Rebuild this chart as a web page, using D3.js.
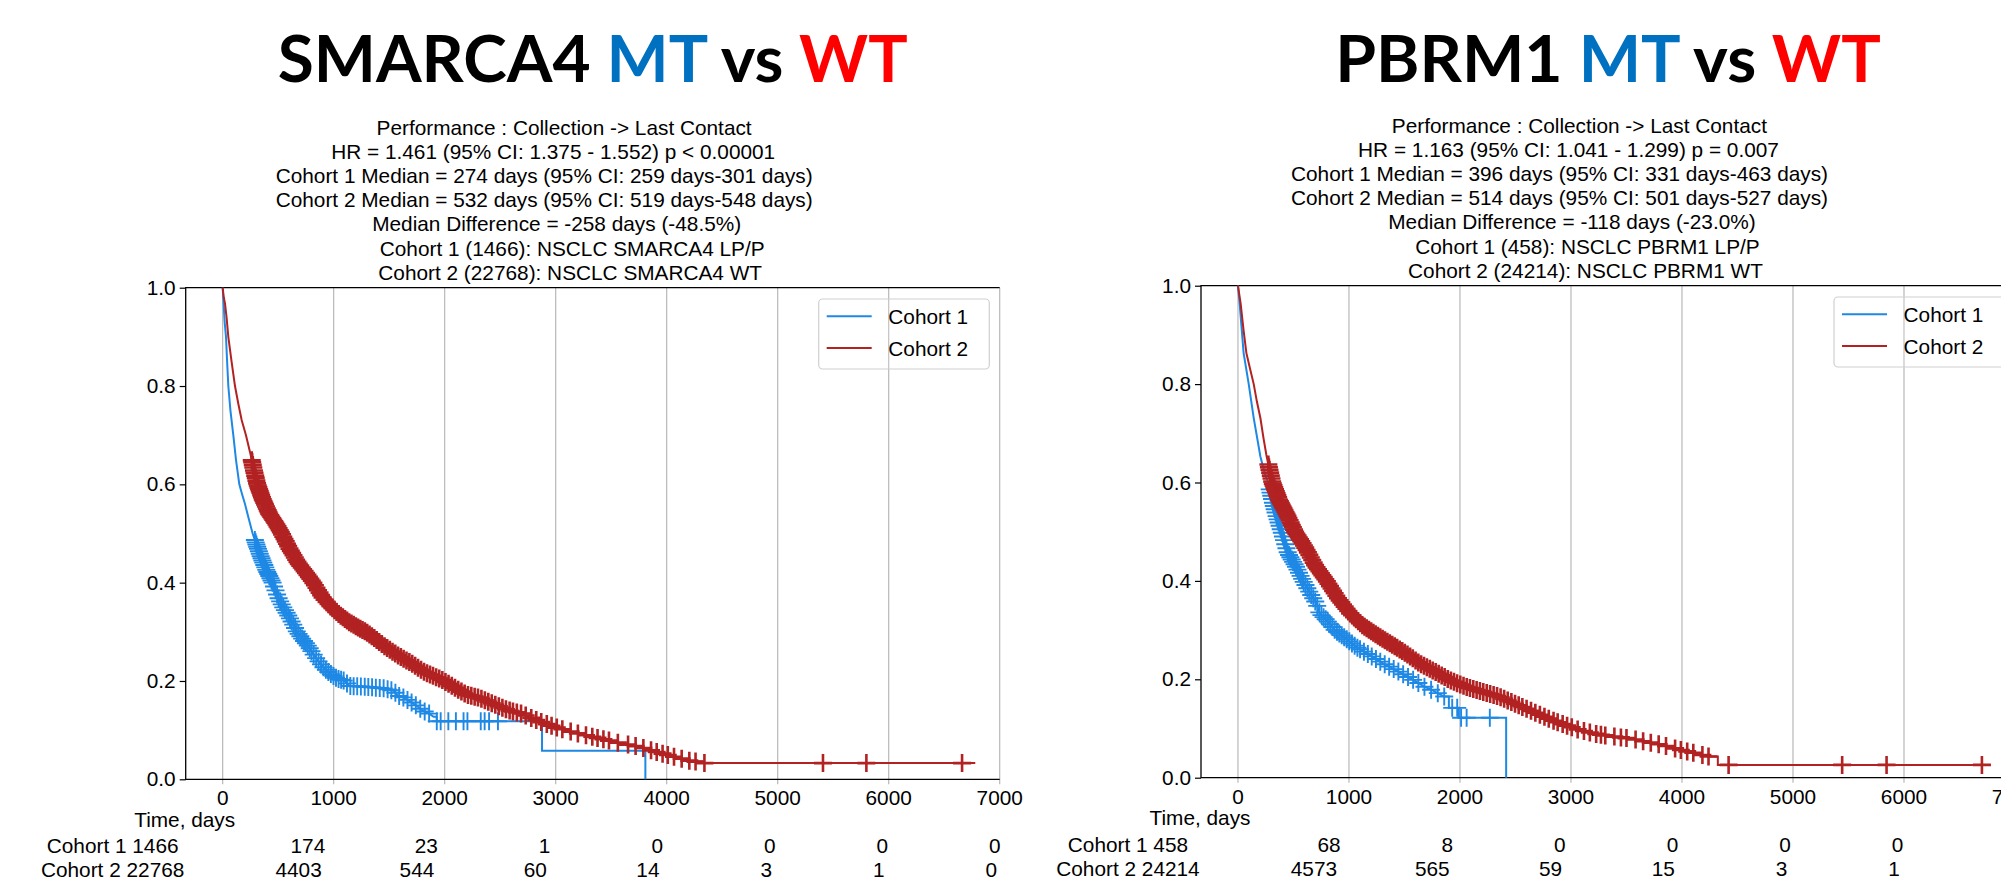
<!DOCTYPE html>
<html>
<head>
<meta charset="utf-8">
<script src="https://cdn.jsdelivr.net/npm/d3@7"></script>
<style>
  body { margin: 0; background: #fff; }
  text { font-family: "Liberation Sans", Arial, sans-serif; fill: #000; }
</style>
</head>
<body>
<svg id="chart" width="2001" height="894"></svg>
<script>

// ---- ticks / table columns
const xTicks = [0, 1000, 2000, 3000, 4000, 5000, 6000, 7000];
const yTicks = [0, 0.2, 0.4, 0.6, 0.8, 1.0];
const riskTimes = [0, 1000, 2000, 3000, 4000, 5000, 6000, 7000];

// ---- SMARCA4 panel
const smarcaTitle = ["SMARCA4 ", "MT", " vs ", "WT"];
const smarcaInfo = [
  "Performance : Collection -> Last Contact",
  "HR = 1.461 (95% CI: 1.375 - 1.552) p < 0.00001",
  "Cohort 1 Median = 274 days (95% CI: 259 days-301 days)",
  "Cohort 2 Median = 532 days (95% CI: 519 days-548 days)",
  "Median Difference = -258 days (-48.5%)",
  "Cohort 1 (1466): NSCLC SMARCA4 LP/P",
  "Cohort 2 (22768): NSCLC SMARCA4 WT"
];
// [days, survival]; repeated days = visible drops
const smarcaMT = [[0,1],[8,0.97],[18,0.93],[30,0.90],[40,0.85],[51,0.80],[70,0.75],[96,0.70],[120,0.65],
  [150,0.60],[175,0.58],[201,0.56],[235,0.53],[270,0.50],[300,0.48],[340,0.455],[395,0.425],[450,0.40],
  [500,0.37],[545,0.35],[600,0.33],[670,0.30],[720,0.285],[774,0.27],[830,0.25],[877,0.236],[920,0.225],
  [963,0.216],[1030,0.205],[1101,0.20],[1140,0.19],[1300,0.188],[1450,0.185],[1540,0.18],[1580,0.17],
  [1618,0.168],[1690,0.158],[1756,0.148],[1800,0.14],[1858,0.134],[1900,0.127],[1929,0.127],[1929,0.118],
  [2877,0.118],[2877,0.058],[3808,0.058],[3808,0]];
const smarcaWT = [[0,1],[10,0.98],[21,0.968],[35,0.94],[51,0.90],[80,0.85],[111,0.80],[140,0.765],[171,0.731],
  [210,0.70],[246,0.666],[280,0.63],[312,0.60],[360,0.57],[420,0.54],[480,0.52],[531,0.50],[600,0.47],
  [680,0.44],[750,0.42],[816,0.40],[900,0.37],[980,0.35],[1050,0.335],[1150,0.318],[1290,0.30],[1380,0.285],
  [1462,0.27],[1580,0.252],[1700,0.236],[1820,0.218],[1980,0.202],[2100,0.185],[2200,0.172],[2308,0.166],
  [2450,0.152],[2580,0.14],[2688,0.134],[2850,0.118],[2998,0.106],[3150,0.096],[3343,0.086],[3550,0.075],
  [3756,0.066],[3900,0.056],[4066,0.046],[4237,0.036],[4320,0.036],[4320,0.033],[6780,0.033]];
// censor times ("+" marks)
const smarcaMTCensor = [290,297,304,311,318,326,334,342,350,358,366,375,384,393,402,411,420,430,440,450,
  463,476,490,504,518,532,546,561,576,591,606,621,636,652,668,684,700,716,733,750,767,784,800,
  820,842,864,886,908,930,952,975,998,1021,1044,1067,1090,
  1120,1150,1180,1212,1245,1280,1312,1346,1380,1415,1450,1486,1520,1556,1590,1628,1665,1702,1740,1780,1820,1860,
  1929,1964,2033,2101,2170,2205,2325,2360,2400,2480];
const smarcaWTCensor = [262,266,271,276,282,287,293,298,304,310,316,322,328,334,340,347,354,361,368,375,382,
  390,398,406,413,420,429,438,447,456,465,474,484,494,504,514,524,535,546,557,568,579,590,602,614,626,638,650,
  662,674,686,699,712,725,738,751,764,777,790,803,817,831,845,859,873,887,900,
  918,936,954,972,990,1008,1026,1045,1064,1083,1102,1121,1140,1160,1180,1200,1220,1240,1260,1281,1302,1323,1344,1366,1388,
  1410,1434,1458,1482,1506,1530,1555,1580,1605,1630,1656,1682,1708,1734,1760,1787,1814,1841,1868,1895,1923,1951,
  1979,2007,2035,2064,2093,2122,2151,2180,2210,2240,2270,2300,2331,2362,2393,2424,2456,2488,2520,2552,2585,
  2615,2650,2688,2730,2780,2825,2870,2920,2963,3010,3060,3135,3200,3273,3330,3377,3430,3480,3560,3652,3720,
  3790,3859,3910,3963,4010,4066,4135,4204,4260,4340,5408,5799,6661];
const smarcaRisk1 = [1466, 174, 23, 1, 0, 0, 0, 0];
const smarcaRisk2 = [22768, 4403, 544, 60, 14, 3, 1, 0];

// ---- PBRM1 panel
const pbrmTitle = ["PBRM1 ", "MT", " vs ", "WT"];
const pbrmInfo = [
  "Performance : Collection -> Last Contact",
  "HR = 1.163 (95% CI: 1.041 - 1.299) p = 0.007",
  "Cohort 1 Median = 396 days (95% CI: 331 days-463 days)",
  "Cohort 2 Median = 514 days (95% CI: 501 days-527 days)",
  "Median Difference = -118 days (-23.0%)",
  "Cohort 1 (458): NSCLC PBRM1 LP/P",
  "Cohort 2 (24214): NSCLC PBRM1 WT"
];
const pbrmMT = [[0,1],[15,0.964],[51,0.863],[97,0.80],[142,0.731],[202,0.653],[240,0.62],[271,0.60],
  [316,0.558],[350,0.53],[392,0.50],[451,0.456],[520,0.43],[587,0.40],[650,0.375],[707,0.354],[736,0.334],
  [800,0.32],[873,0.30],[960,0.285],[1064,0.266],[1180,0.25],[1310,0.232],[1450,0.215],[1585,0.198],
  [1680,0.185],[1748,0.178],[1858,0.165],[1900,0.165],[1900,0.142],[1990,0.142],[1990,0.122],[2416,0.122],[2416,0]];
const pbrmWT = [[0,1],[10,0.985],[24,0.964],[50,0.91],[76,0.863],[110,0.83],[142,0.80],[170,0.765],
  [202,0.731],[230,0.69],[256,0.656],[280,0.63],[310,0.60],[370,0.565],[440,0.535],[514,0.50],[600,0.47],
  [700,0.43],[798,0.40],[900,0.365],[1010,0.334],[1120,0.31],[1250,0.29],[1420,0.266],[1530,0.25],
  [1639,0.232],[1780,0.215],[1912,0.198],[2050,0.185],[2200,0.175],[2351,0.165],[2500,0.15],[2679,0.132],
  [2850,0.115],[3062,0.098],[3200,0.09],[3336,0.085],[3555,0.079],[3650,0.074],[3774,0.069],[3900,0.062],
  [3993,0.056],[4120,0.05],[4239,0.043],[4323,0.043],[4323,0.026],[6780,0.026]];
const pbrmMTCensor = [286,293,300,307,315,323,331,339,348,357,366,375,385,395,405,415,426,437,448,460,472,
  484,497,510,523,536,550,564,578,592,608,625,642,660,678,696,714,733,752,771,790,810,830,850,871,892,913,
  935,957,980,1003,1027,1051,1076,1100,1135,1170,1205,1243,1282,1322,1362,1403,1445,1488,1532,1578,1625,
  1680,1740,1800,1858,1930,1975,2010,2060,2269];
const pbrmWTCensor = [274,279,284,290,296,302,308,314,320,327,334,341,348,355,362,370,378,386,394,402,410,
  419,428,437,446,455,465,475,485,495,505,515,526,537,548,559,570,582,594,606,618,630,643,656,669,682,695,
  708,721,734,747,760,773,787,801,815,829,843,857,871,886,901,916,931,946,961,977,993,
  1010,1028,1046,1064,1083,1102,1121,1140,1160,1180,1200,1220,1240,1261,1282,1303,1324,1346,1368,1390,1412,
  1434,1457,1480,1503,1527,1551,1575,1600,1625,1650,1676,1702,1728,1754,1781,1808,1835,1862,1890,1918,1946,
  1974,2003,2032,2061,2090,2120,2150,2180,2210,2241,2272,2303,2334,2366,2398,2430,2463,2496,2529,2562,
  2600,2640,2679,2720,2761,2800,2843,2880,2925,2965,3007,3060,3117,3170,3227,3270,3309,3391,3450,3500,3582,
  3650,3719,3790,3856,3938,3990,4047,4102,4184,4239,4420,5443,5843,6702];
// 7000 column lies past the page edge
const pbrmRisk1 = [458, 68, 8, 0, 0, 0, 0];
const pbrmRisk2 = [24214, 4573, 565, 59, 15, 3, 1];

const legendNames = ["Cohort 1", "Cohort 2"];
const colors = ["#1e88e5", "#b22222"];
const markWidth = [1.9, 2.6];
const titleColors = ["#000", "#0070c0", "#000", "#ff0000"];

// horizontal centre of each info line, measured from the axes' left edge
const infoCenters = [378.4, 367.5, 358.5, 358.5, 371, 386.5, 384.5];
const fs = "20.8px";

const panels = [
  { title: smarcaTitle, titleW: 630, info: smarcaInfo, curves: [smarcaMT, smarcaWT],
    censor: [smarcaMTCensor, smarcaWTCensor], risk: [smarcaRisk1, smarcaRisk2],
    left: 185.7, right: 999.7, top: 287.7, bottom: 779.3 },
  { title: pbrmTitle, titleW: 545.6, info: pbrmInfo, curves: [pbrmMT, pbrmWT],
    censor: [pbrmMTCensor, pbrmWTCensor], risk: [pbrmRisk1, pbrmRisk2],
    left: 1201, right: 2015, top: 285.7, bottom: 777.7 }
];

const svg = d3.select("#chart");

function drawPanel(p) {
  const g = svg.append("g");

  const x = d3.scaleLinear().domain([-333, 7000]).range([p.left, p.right]);
  const y = d3.scaleLinear().domain([0, 1]).range([p.bottom, p.top]);
  const xRisk = d3.scaleLinear().domain([0, 7000]).range([x(0) - 10, x(7000) + 1]);

  // big title
  const t = g.append("text")
    .attr("x", (p.left + p.right) / 2)
    .attr("y", 82)
    .attr("text-anchor", "middle")
    .attr("textLength", p.titleW)
    .attr("lengthAdjust", "spacingAndGlyphs")
    .style("font-family", "Lato, 'Open Sans', sans-serif")
    .style("font-weight", "bold")
    .style("font-size", "65px");
  p.title.forEach((s, i) => {
    t.append("tspan").text(s).style("fill", titleColors[i]).attr("xml:space", "preserve");
  });

  // info lines
  p.info.forEach((s, i) => {
    g.append("text")
      .attr("x", p.left + infoCenters[i])
      .attr("y", p.top - 152.7 + 24.1 * i)
      .attr("text-anchor", "middle")
      .style("font-size", fs)
      .text(s);
  });

  // vertical grid + x ticks
  g.selectAll(".grid").data(xTicks).enter().append("line")
    .attr("x1", d => x(d)).attr("x2", d => x(d))
    .attr("y1", p.top).attr("y2", p.bottom + 5)
    .attr("stroke", "#b8b8b8").attr("stroke-width", 1.2);

  g.selectAll(".xlab").data(xTicks).enter().append("text")
    .attr("x", d => x(d))
    .attr("y", p.bottom + 26)
    .attr("text-anchor", "middle")
    .style("font-size", fs)
    .text(d => d);

  // y axis
  const yAxis = g.append("g")
    .attr("transform", `translate(${p.left},0)`)
    .call(d3.axisLeft(y).tickValues(yTicks).tickFormat(d3.format(".1f")).tickSizeInner(6).tickSizeOuter(0).tickPadding(4));
  yAxis.select(".domain").remove();
  yAxis.selectAll("line").attr("stroke", "#000").attr("stroke-width", 1.2);
  yAxis.selectAll("text").style("font-size", fs).style("font-family", "'Liberation Sans', Arial, sans-serif");

  // spines (no right spine)
  g.append("path")
    .attr("d", `M${p.right},${p.top}H${p.left}V${p.bottom}H${p.right}`)
    .attr("fill", "none").attr("stroke", "#000").attr("stroke-width", 1.3);

  // legend box
  const lx = p.right - 10.4 - 170.6, ly = p.top + 11.3;
  g.append("rect")
    .attr("x", lx).attr("y", ly).attr("width", 170.6).attr("height", 70).attr("rx", 4)
    .attr("fill", "#fff").attr("fill-opacity", 0.15)
    .attr("stroke", "#d0d0d0").attr("stroke-width", 1.2);

  // curves (cohort 1 under cohort 2)
  p.curves.forEach((pts, k) => {
    const surv = d3.scaleLinear().domain(pts.map(d => d[0])).range(pts.map(d => d[1]));

    g.append("path")
      .datum(pts)
      .attr("fill", "none")
      .attr("stroke", colors[k])
      .attr("stroke-width", 2)
      .attr("d", d3.line().x(d => x(d[0])).y(d => y(d[1])));

    g.append("g").selectAll("path").data(p.censor[k]).enter().append("path")
      .attr("transform", d => `translate(${x(d)},${y(surv(d))})`)
      .attr("d", "M-9,0H9M0,-9V9")
      .attr("stroke", colors[k])
      .attr("stroke-width", markWidth[k])
      .attr("fill", "none");
  });

  // legend entries
  legendNames.forEach((name, k) => {
    g.append("line")
      .attr("x1", lx + 8).attr("x2", lx + 53)
      .attr("y1", ly + 17.3 + 31.7 * k).attr("y2", ly + 17.3 + 31.7 * k)
      .attr("stroke", colors[k]).attr("stroke-width", 2);
    g.append("text")
      .attr("x", lx + 69.6).attr("y", ly + 25.3 + 31.7 * k)
      .style("font-size", fs)
      .text(name);
  });

  // x label
  g.append("text")
    .attr("x", p.left - 1).attr("y", p.bottom + 47.4)
    .attr("text-anchor", "middle")
    .style("font-size", fs)
    .text("Time, days");

  // at-risk table
  p.risk.forEach((row, r) => {
    const by = p.bottom + 74 + 24 * r;
    g.append("text")
      .attr("x", x(0) - 110).attr("y", by)
      .attr("text-anchor", "middle")
      .style("font-size", fs)
      .text(legendNames[r] + " " + row[0]);
    g.selectAll(null).data(riskTimes.slice(1, row.length)).enter().append("text")
      .attr("x", d => xRisk(d) - 3.5 * r)
      .attr("y", by)
      .attr("text-anchor", "end")
      .style("font-size", fs)
      .text((d, i) => row[i + 1]);
  });
}

panels.forEach(drawPanel);
</script>
</body>
</html>
